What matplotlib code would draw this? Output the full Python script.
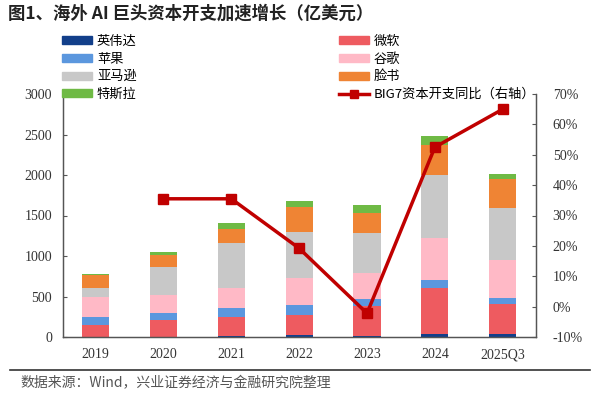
import numpy as np
import matplotlib
matplotlib.use("Agg")
import matplotlib.pyplot as plt
from matplotlib.patches import Patch
from matplotlib.lines import Line2D

# Dados (亿美元)
anos = ["2019", "2020", "2021", "2022", "2023", "2024", "2025Q3"]
nvidia = [5, 5, 8, 25, 12, 37, 37]
microsoft = [139, 205, 235, 247, 366, 564, 371]
apple = [107, 83, 119, 123, 88, 103, 70]
google = [239, 226, 241, 330, 321, 522, 473]
amazon = [119, 342, 554, 568, 494, 774, 646]
meta = [152, 152, 177, 316, 254, 371, 350]
tesla = [13, 33, 78, 71, 95, 111, 62]
yoy_anos = ["2020", "2021", "2022", "2023", "2024", "2025Q3"]
yoy = [35.5, 35.5, 19.2, -2.2, 52.5, 65.0]

series = [
    ("英伟达", nvidia, "#123f8a"),
    ("微软", microsoft, "#ee5b60"),
    ("苹果", apple, "#5b97de"),
    ("谷歌", google, "#ffb9c6"),
    ("亚马逊", amazon, "#c8c8c8"),
    ("脸书", meta, "#ef8434"),
    ("特斯拉", tesla, "#6fba45"),
]

cjk = ["Noto Sans CJK SC", "DejaVu Sans"]
serif = ["Liberation Serif", "DejaVu Serif"]
plt.rcParams["font.family"] = cjk

fig = plt.figure(figsize=(6, 3.96), dpi=100)
ax = fig.add_axes([63 / 600, 1 - 337 / 396, (536 - 63) / 600, (337 - 94) / 396])
ax2 = ax.twinx()

# Barras empilhadas
x = np.arange(len(anos))
base = np.zeros(len(anos))
for nome, vals, cor in series:
    ax.bar(x, vals, 0.4, bottom=base, color=cor, label=nome, zorder=2)
    base += np.array(vals)

# Linha do crescimento anual (eixo direito)
xl = [anos.index(a) for a in yoy_anos]
ax2.plot(xl, yoy, color="#c00000", lw=2.5, marker="s", ms=7, zorder=3)

ax.set_xlim(-0.48, 6.49)
ax.set_ylim(0, 3000)
ax.set_yticks(range(0, 3001, 500))
ax2.set_ylim(-10, 70)
ax2.set_yticks(range(-10, 71, 10))
ax2.set_yticklabels([f"{v}%" for v in range(-10, 71, 10)])
ax.set_xticks(x)
ax.set_xticklabels(anos)

for a in (ax, ax2):
    a.spines["top"].set_visible(False)
    for s in ("left", "right", "bottom"):
        a.spines[s].set_color("#555555")
        a.spines[s].set_linewidth(0.9)
    for lab in a.get_yticklabels() + a.get_xticklabels():
        lab.set_fontfamily(serif)
        lab.set_fontsize(10)
        lab.set_color("#333333")
ax.tick_params(axis="y", direction="in", length=3, pad=8, color="#555555")
ax2.tick_params(axis="y", direction="in", length=3, pad=12, color="#555555")
ax.tick_params(axis="x", length=0, pad=8)

# Legendas (duas colunas)
cores = {n: c for n, v, c in series}
ordem1 = ["英伟达", "苹果", "亚马逊", "特斯拉"]
ordem2 = ["微软", "谷歌", "脸书"]
h1 = [Patch(color=cores[n], label=n) for n in ordem1]
h2 = [Patch(color=cores[n], label=n) for n in ordem2]
h2.append(Line2D([], [], color="#c00000", lw=2.5, marker="s", ms=6,
                 label="BIG7资本开支同比（右轴）"))

kw = dict(frameon=False, fontsize=9.5, handlelength=2.3, handleheight=0.55,
          handletextpad=0.35, labelspacing=0.35, borderpad=0, borderaxespad=0)
fig.legend(handles=h1, loc="upper left", bbox_to_anchor=(62 / 600, 1 - 35 / 396), **kw)
fig.legend(handles=h2, loc="upper left", bbox_to_anchor=(339 / 600, 1 - 35 / 396), **kw)

fig.text(8 / 600, 1 - 14 / 396, "图1、海外 AI 巨头资本开支加速增长（亿美元）",
         fontsize=12.5, fontweight="bold", color="#222222", va="center", ha="left")
fig.add_artist(Line2D([10 / 600, 590 / 600], [1 - 370 / 396, 1 - 370 / 396],
                      color="#333333", lw=1.2, transform=fig.transFigure))
fig.text(20 / 600, 1 - 383 / 396, "数据来源：Wind，兴业证券经济与金融研究院整理",
         fontsize=10, color="#555555", va="center", ha="left")

fig.savefig("out.png", dpi=100)
